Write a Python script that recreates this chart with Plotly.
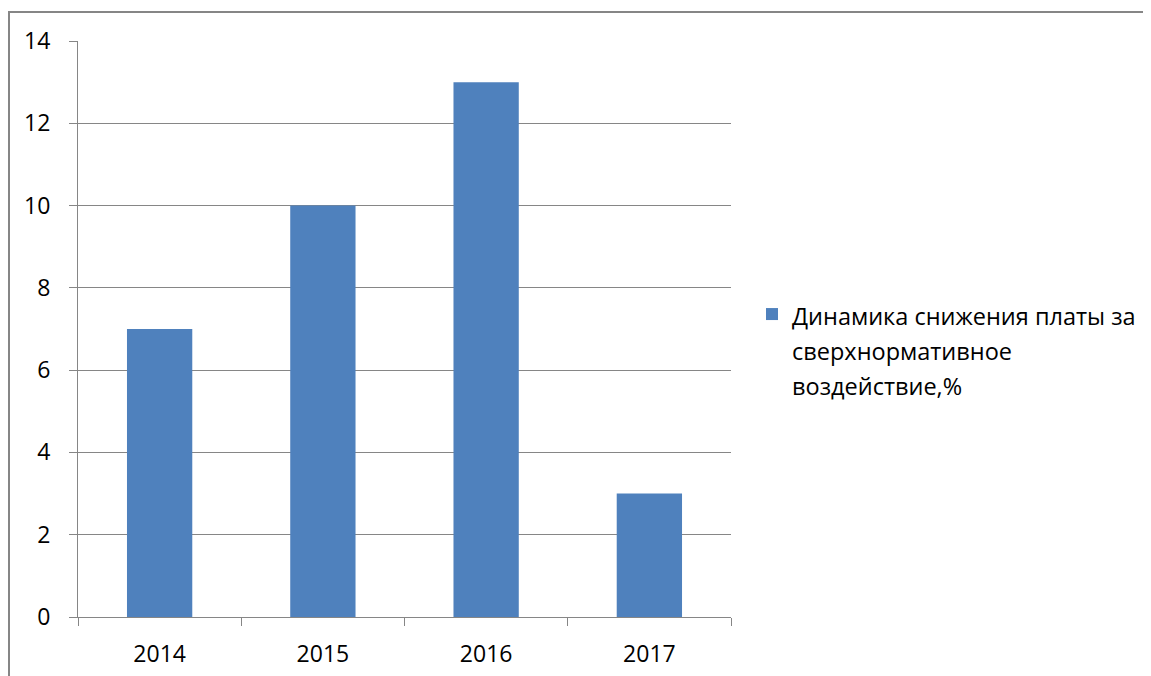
import plotly.graph_objects as go

years = ["2014", "2015", "2016", "2017"]
values = [7, 10, 13, 3]
series_name = ["Динамика снижения платы за", "сверхнормативное", "воздействие,%"]
y_ticks = [0, 2, 4, 6, 8, 10, 12, 14]

BAR = "#4F81BD"
GRID = "#868686"
FONT = "Open Sans"

# page body has an 8px default margin, so the figure is offset by 8px
OFF = 8
W, H = 1151 - OFF, 676 - OFF
L, T = 78 - OFF, 41 - OFF
pw, ph = 653, 576
R, B = W - L - pw, H - T - ph

def px_x(p):
    return (p - OFF - L) / pw

def px_y(p):
    return (T + ph - (p - OFF)) / ph

legend_name = "<br>".join(f"<span style='font-size:23.5px'>{s}</span>" for s in series_name)

fig = go.Figure()
fig.add_trace(go.Bar(
    x=years, y=values, name=legend_name,
    marker=dict(color=BAR, line=dict(width=0)),
    showlegend=True,
))

fig.update_layout(
    width=W, height=H, autosize=False,
    margin=dict(l=L, r=R, t=T, b=B, pad=0, autoexpand=False),
    paper_bgcolor="white", plot_bgcolor="white",
    bargap=0.6,
    font=dict(family=FONT, size=23, color="black"),
    showlegend=True,
    legend=dict(
        x=px_x(752), xanchor="left",
        y=px_y(290), yanchor="top",
        valign="top",
        font=dict(size=27, color="black", family=FONT),
        bgcolor="rgba(0,0,0,0)", borderwidth=0,
        itemwidth=30,
    ),
    xaxis=dict(
        type="category", showgrid=False, automargin=False,
        showline=True, linecolor=GRID, linewidth=1,
        ticks="outside", tickson="boundaries", ticklen=8, tickcolor=GRID, tickwidth=1,
        tickfont=dict(size=23, color="black"),
        ticklabelstandoff=16,
    ),
    yaxis=dict(
        range=[0, 14], tickvals=y_ticks, showgrid=True, gridcolor=GRID, gridwidth=1,
        automargin=False,
        showline=True, linecolor=GRID, linewidth=1, zeroline=False,
        ticks="outside", ticklen=8, tickcolor=GRID, tickwidth=1,
        tickfont=dict(size=23, color="black"),
        ticklabelstandoff=14,
    ),
    shapes=[dict(
        type="rect", xref="paper", yref="paper",
        x0=px_x(9), x1=px_x(1200), y0=px_y(720), y1=px_y(12),
        line=dict(color=GRID, width=2), fillcolor="rgba(0,0,0,0)", layer="below",
    )],
)

fig.write_html("out.html")
